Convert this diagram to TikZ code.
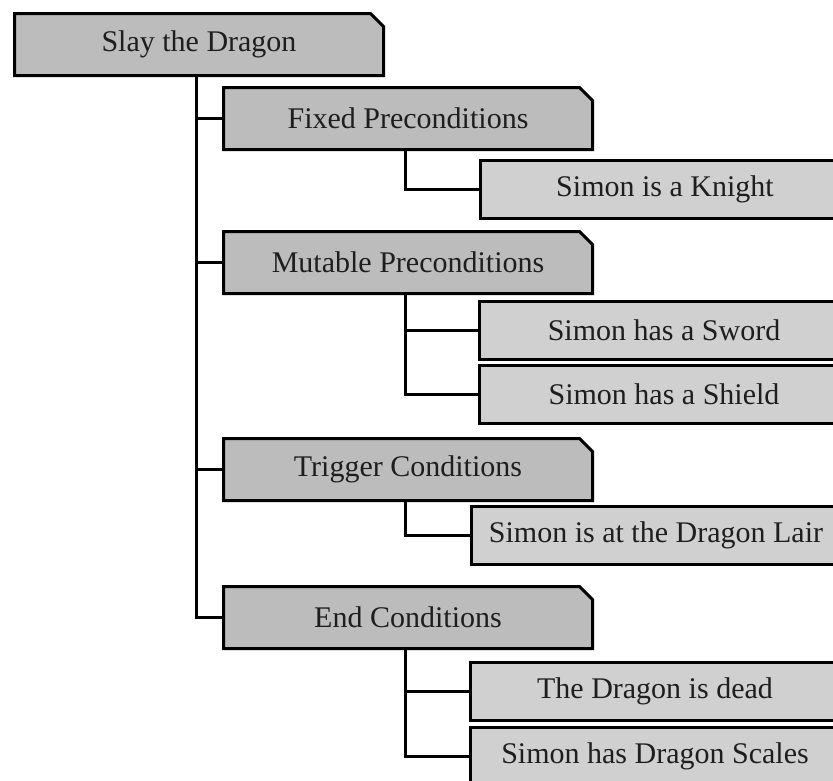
\documentclass[tikz,border=0pt]{standalone}
\usepackage{fontspec}
\setmainfont{Liberation Serif}
\usetikzlibrary{shapes.misc, positioning}
\definecolor{darkbox}{RGB}{188,188,188}
\definecolor{lightbox}{RGB}{208,208,208}
\definecolor{inktext}{RGB}{30,30,30}
\tikzset{
  tbox/.style={draw=black, line width=3pt, anchor=north west, inner sep=0pt,
    minimum width=369pt, text=inktext, font=\fontsize{30}{34}\selectfont},
  catbox/.style={tbox, chamfered rectangle, chamfered rectangle corners=north east,
    chamfered rectangle xsep=10pt, chamfered rectangle angle=45,
    fill=darkbox, minimum height=62pt},
  leafbox/.style={tbox, rectangle, fill=lightbox, minimum height=58pt},
  link/.style={line width=3pt, line join=miter}
}

\begin{document}
\begin{tikzpicture}[x=1pt, y=-1pt]
\useasboundingbox (0,0) rectangle (833,780);
\clip (0,0) rectangle (833,780);

% Goal at the top
\node[catbox] (goal) at (13,12) {Slay the Dragon};

% Condition groups
\node[catbox] (fixed) at (222,86) {Fixed Preconditions};
\node[catbox] (mutable) at (222,230) {Mutable Preconditions};
\node[catbox] (trigger) at (222,437) {Trigger Conditions};
\node[catbox] (endc) at (222,585) {End Conditions};

% Single conditions (they run past the right edge)
\node[leafbox] (knight) at (479,159) {Simon is a Knight};
\node[leafbox] (sword) at (478,300) {Simon has a Sword};
\node[leafbox] (shield) at (478,364) {Simon has a Shield};
\node[leafbox] (lair) at (470,505) {Simon is at the Dragon Lair};
\node[leafbox] (dead) at (469,661) {The Dragon is dead};
\node[leafbox] (scales) at (469,726) {Simon has Dragon Scales};

% Branch points under the boxes
\coordinate (trunk) at ([xshift=183pt]goal.south west);
\coordinate (fixedbr) at ([xshift=183pt]fixed.south west);
\coordinate (mutablebr) at ([xshift=183pt]mutable.south west);
\coordinate (triggerbr) at ([xshift=183pt]trigger.south west);
\coordinate (endbr) at ([xshift=183pt]endc.south west);

% Connectors
\foreach \n in {fixed,mutable,trigger,endc}
{
    \draw[link] (trunk) |- (\n.west);
}
\draw[link] (fixedbr) |- (knight.west);
\draw[link] (mutablebr) |- (sword.west);
\draw[link] (mutablebr) |- (shield.west);
\draw[link] (triggerbr) |- (lair.west);
\draw[link] (endbr) |- (dead.west);
\draw[link] (endbr) |- (scales.west);

\end{tikzpicture}
\end{document}
